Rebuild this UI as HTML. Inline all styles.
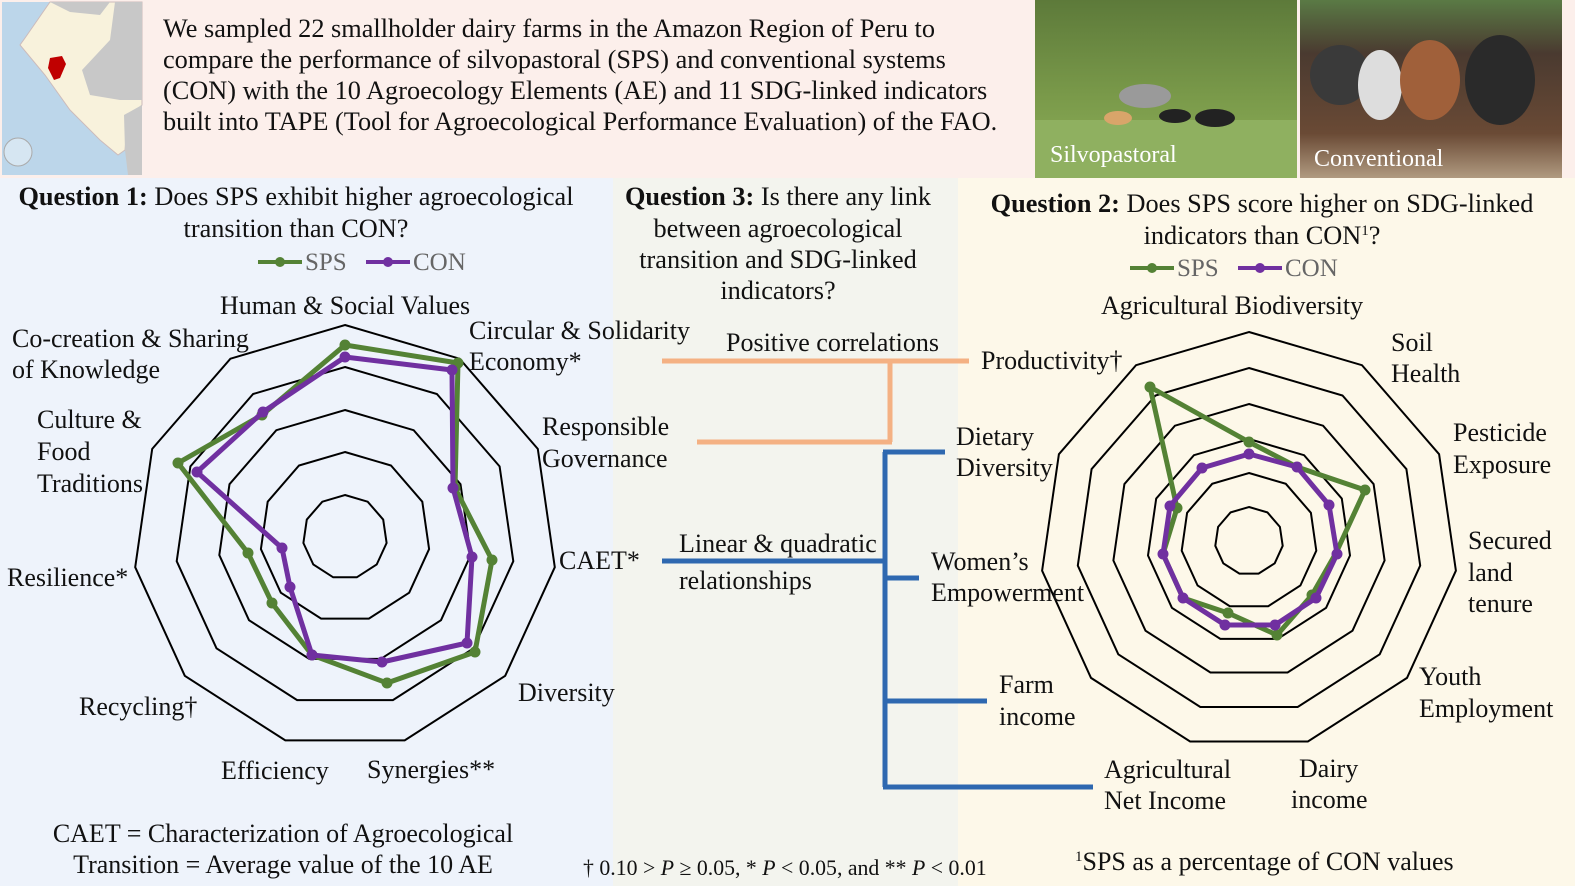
<!DOCTYPE html>
<html><head><meta charset="utf-8"><style>
html,body{margin:0;padding:0;}
body{width:1575px;height:886px;overflow:hidden;background:#fff;font-family:"Liberation Serif",serif;}
svg text{font-family:"Liberation Serif",serif;fill:#111;}
</style></head><body>
<svg width="1575" height="886" xmlns="http://www.w3.org/2000/svg">
<defs>
<linearGradient id="g1" x1="0" y1="0" x2="0" y2="1"><stop offset="0" stop-color="#5d7a3a"/><stop offset="0.55" stop-color="#7a9a4a"/><stop offset="1" stop-color="#8fb05a"/></linearGradient>
<linearGradient id="g2" x1="0" y1="0" x2="0" y2="1"><stop offset="0" stop-color="#5a7a45"/><stop offset="0.3" stop-color="#4a3a30"/><stop offset="0.75" stop-color="#6a4a35"/><stop offset="1" stop-color="#b09a80"/></linearGradient>
</defs>
<rect x="0" y="0" width="1575" height="180" fill="#fcefeb"/>
<rect x="0" y="178" width="613" height="708" fill="#eef3fb"/>
<rect x="613" y="178" width="345" height="708" fill="#f3f4ee"/>
<rect x="958" y="178" width="617" height="708" fill="#fdf8e9"/>
<!-- map -->
<rect x="2" y="2" width="140" height="173" fill="#bcd6ea"/>
<path d="M50,2 L142,2 L142,105 L128,118 L125,150 L118,155 L100,140 L70,110 L45,75 L20,45 L25,38 Z" fill="#f8f2dc" stroke="#cbb" stroke-width="1"/>
<path d="M50,2 L110,2 L100,15 L70,12 Z" fill="#c8c8c8"/>
<path d="M115,2 L142,2 L142,100 L120,100 L90,95 L82,70 L110,40 Z" fill="#c8c8c8"/>
<path d="M124,115 L142,105 L142,175 L128,175 L125,150 Z" fill="#c8c8c8"/>
<path d="M50,58 L62,56 L66,64 L60,78 L54,80 L48,68 Z" fill="#c00000"/>
<circle cx="18" cy="152" r="14" fill="#d6e6f2" stroke="#aaa"/>
<!-- photos -->
<rect x="1035" y="0" width="262" height="178" fill="url(#g1)"/>
<rect x="1035" y="120" width="262" height="58" fill="#8fb060"/>
<ellipse cx="1145" cy="96" rx="26" ry="12" fill="#9a9a9a"/>
<ellipse cx="1118" cy="118" rx="14" ry="7" fill="#d9a56a"/>
<ellipse cx="1215" cy="118" rx="20" ry="9" fill="#222"/>
<ellipse cx="1175" cy="116" rx="16" ry="7" fill="#222"/>
<text x="1050" y="162" font-size="24" style="fill:#fff">Silvopastoral</text>
<rect x="1300" y="0" width="262" height="178" fill="url(#g2)"/>
<ellipse cx="1340" cy="75" rx="30" ry="30" fill="#3a3a3a"/>
<ellipse cx="1380" cy="85" rx="22" ry="35" fill="#ddd"/>
<ellipse cx="1430" cy="80" rx="30" ry="40" fill="#a0603a"/>
<ellipse cx="1500" cy="80" rx="35" ry="45" fill="#2a2a2a"/>
<text x="1314" y="166" font-size="24" style="fill:#fff">Conventional</text>
<g font-size="26.3">
<text x="163" y="37">We sampled 22 smallholder dairy farms in the Amazon Region of Peru to</text>
<text x="163" y="68">compare the performance of silvopastoral (SPS) and conventional systems</text>
<text x="163" y="99">(CON) with the 10 Agroecology Elements (AE) and 11 SDG-linked indicators</text>
<text x="163" y="130">built into TAPE (Tool for Agroecological Performance Evaluation) of the FAO.</text>
</g>
<g font-size="26.3" text-anchor="middle">
<text x="296" y="205"><tspan font-weight="bold">Question 1:</tspan> Does SPS exhibit higher agroecological</text>
<text x="296" y="237">transition than CON?</text>
</g>
<line x1="258" y1="262" x2="302" y2="262" stroke="#548235" stroke-width="4"/><circle cx="280" cy="262" r="5" fill="#548235"/>
<text x="305" y="270" font-size="25" style="fill:#666">SPS</text>
<line x1="366" y1="262" x2="410" y2="262" stroke="#7030a0" stroke-width="4"/><circle cx="388" cy="262" r="5" fill="#7030a0"/>
<text x="413" y="270" font-size="25" style="fill:#666">CON</text>
<g font-size="26.3" text-anchor="middle">
<text x="778" y="205"><tspan font-weight="bold">Question 3:</tspan> Is there any link</text>
<text x="778" y="237">between agroecological</text>
<text x="778" y="268">transition and SDG-linked</text>
<text x="778" y="299">indicators?</text>
</g>
<g font-size="26.3" text-anchor="middle">
<text x="1262" y="212"><tspan font-weight="bold">Question 2:</tspan> Does SPS score higher on SDG-linked</text>
<text x="1262" y="244">indicators than CON<tspan font-size="15" dy="-9">1</tspan><tspan dy="9">?</tspan></text>
</g>
<line x1="1130" y1="268" x2="1174" y2="268" stroke="#548235" stroke-width="4"/><circle cx="1152" cy="268" r="5" fill="#548235"/>
<text x="1177" y="276" font-size="25" style="fill:#666">SPS</text>
<line x1="1238" y1="268" x2="1282" y2="268" stroke="#7030a0" stroke-width="4"/><circle cx="1260" cy="268" r="5" fill="#7030a0"/>
<text x="1285" y="276" font-size="25" style="fill:#666">CON</text>

<g fill="none" stroke="#000" stroke-width="2" id="lr"></g>
<g fill="none" stroke="#000" stroke-width="2" id="rr"></g>
<script>
function poly(cx,cy,r){var p=[];for(var i=0;i<11;i++){var a=(-90+i*360/11)*Math.PI/180;p.push((cx+r*Math.cos(a)).toFixed(1)+','+(cy+r*Math.sin(a)).toFixed(1));}return p.join(' ');}
var ns="http://www.w3.org/2000/svg";
[42,85,127,170,212].forEach(function(r){var e=document.createElementNS(ns,'polygon');e.setAttribute('points',poly(345,537,r));document.getElementById('lr').appendChild(e);});
[34,68,102,137,173,209].forEach(function(r){var e=document.createElementNS(ns,'polygon');e.setAttribute('points',poly(1249,541,r));document.getElementById('rr').appendChild(e);});
</script>
<g stroke="#548235" fill="#548235">
<polygon points="345,345 458,363 455,488 492,560 475,652 387,683 312,655 272,603 248,553 178,463 262,415" fill="none" stroke-width="5" stroke-linejoin="round"/>
<circle cx="345" cy="345" r="5"/><circle cx="458" cy="363" r="5"/><circle cx="455" cy="488" r="5"/><circle cx="492" cy="560" r="5"/><circle cx="475" cy="652" r="5"/><circle cx="387" cy="683" r="5"/><circle cx="312" cy="655" r="5"/><circle cx="272" cy="603" r="5"/><circle cx="248" cy="553" r="5"/><circle cx="178" cy="463" r="5"/><circle cx="262" cy="415" r="5"/>
</g>
<g stroke="#7030a0" fill="#7030a0">
<polygon points="345,357 452,370 453,488 472,557 467,643 382,662 312,655 290,587 282,548 197,472 263,412" fill="none" stroke-width="5" stroke-linejoin="round"/>
<circle cx="345" cy="357" r="5"/><circle cx="452" cy="370" r="5"/><circle cx="453" cy="488" r="5"/><circle cx="472" cy="557" r="5"/><circle cx="467" cy="643" r="5"/><circle cx="382" cy="662" r="5"/><circle cx="312" cy="655" r="5"/><circle cx="290" cy="587" r="5"/><circle cx="282" cy="548" r="5"/><circle cx="197" cy="472" r="5"/><circle cx="263" cy="412" r="5"/>
</g>
<g stroke="#548235" fill="#548235">
<polygon points="1249,442 1297,467 1365,490 1336,553 1312,595 1277,635 1228,613 1183,598 1163,554 1177,508 1150,387" fill="none" stroke-width="5" stroke-linejoin="round"/>
<circle cx="1249" cy="442" r="5"/><circle cx="1365" cy="490" r="5"/><circle cx="1312" cy="595" r="5"/><circle cx="1277" cy="635" r="5"/><circle cx="1228" cy="613" r="5"/><circle cx="1177" cy="508" r="5"/><circle cx="1150" cy="387" r="5"/>
</g>
<g stroke="#7030a0" fill="#7030a0">
<polygon points="1249,454 1297,467 1329,505 1337,554 1316,598 1275,625 1225,625 1183,598 1163,554 1170,506 1202,468" fill="none" stroke-width="5" stroke-linejoin="round"/>
<circle cx="1249" cy="454" r="5"/><circle cx="1297" cy="467" r="5"/><circle cx="1329" cy="505" r="5"/><circle cx="1337" cy="554" r="5"/><circle cx="1316" cy="598" r="5"/><circle cx="1275" cy="625" r="5"/><circle cx="1225" cy="625" r="5"/><circle cx="1183" cy="598" r="5"/><circle cx="1163" cy="554" r="5"/><circle cx="1170" cy="506" r="5"/><circle cx="1202" cy="468" r="5"/>
</g>
<g stroke="#f4b183" stroke-width="5" fill="none">
<line x1="662" y1="361" x2="969" y2="361"/>
<line x1="890" y1="361" x2="890" y2="442"/>
<line x1="697" y1="442" x2="892" y2="442"/>
</g>
<g stroke="#2e68b0" stroke-width="5" fill="none">
<line x1="885" y1="452" x2="885" y2="787"/>
<line x1="883" y1="452" x2="945" y2="452"/>
<line x1="662" y1="561" x2="885" y2="561"/>
<line x1="885" y1="578" x2="919" y2="578"/>
<line x1="885" y1="701" x2="987" y2="701"/>
<line x1="883" y1="787" x2="1093" y2="787"/>
</g>
<g font-size="26">
<text x="220" y="314">Human &amp; Social Values</text>
<text x="12" y="347">Co-creation &amp; Sharing</text>
<text x="12" y="378">of Knowledge</text>
<text x="469" y="339">Circular &amp; Solidarity</text>
<text x="469" y="370">Economy*</text>
<text x="37" y="428">Culture &amp;</text>
<text x="37" y="460">Food</text>
<text x="37" y="492">Traditions</text>
<text x="542" y="435">Responsible</text>
<text x="542" y="467">Governance</text>
<text x="559" y="569">CAET*</text>
<text x="7" y="586">Resilience*</text>
<text x="518" y="701">Diversity</text>
<text x="79" y="715">Recycling†</text>
<text x="221" y="779">Efficiency</text>
<text x="367" y="778">Synergies**</text>
<text x="283" y="842" text-anchor="middle">CAET = Characterization of Agroecological</text>
<text x="283" y="873" text-anchor="middle">Transition = Average value of the 10 AE</text>
<text x="726" y="351">Positive correlations</text>
<text x="679" y="552">Linear &amp; quadratic</text>
<text x="679" y="589">relationships</text>
<text x="583" y="875" font-size="21.8">† 0.10 &gt; <tspan font-style="italic">P</tspan> ≥ 0.05, * <tspan font-style="italic">P</tspan> &lt; 0.05, and ** <tspan font-style="italic">P</tspan> &lt; 0.01</text>
<text x="1101" y="314">Agricultural Biodiversity</text>
<text x="981" y="369">Productivity†</text>
<text x="1391" y="351">Soil</text>
<text x="1391" y="382">Health</text>
<text x="956" y="445">Dietary</text>
<text x="956" y="476">Diversity</text>
<text x="1453" y="441">Pesticide</text>
<text x="1453" y="473">Exposure</text>
<text x="1468" y="549">Secured</text>
<text x="1468" y="581">land</text>
<text x="1468" y="612">tenure</text>
<text x="931" y="570">Women’s</text>
<text x="931" y="601">Empowerment</text>
<text x="999" y="693">Farm</text>
<text x="999" y="725">income</text>
<text x="1419" y="685">Youth</text>
<text x="1419" y="717">Employment</text>
<text x="1104" y="778">Agricultural</text>
<text x="1104" y="809">Net Income</text>
<text x="1299" y="777">Dairy</text>
<text x="1291" y="808">income</text>
<text x="1075" y="870"><tspan font-size="15" dy="-9">1</tspan><tspan dy="9">SPS as a percentage of CON values</tspan></text>
</g>
</svg>
</body></html>
